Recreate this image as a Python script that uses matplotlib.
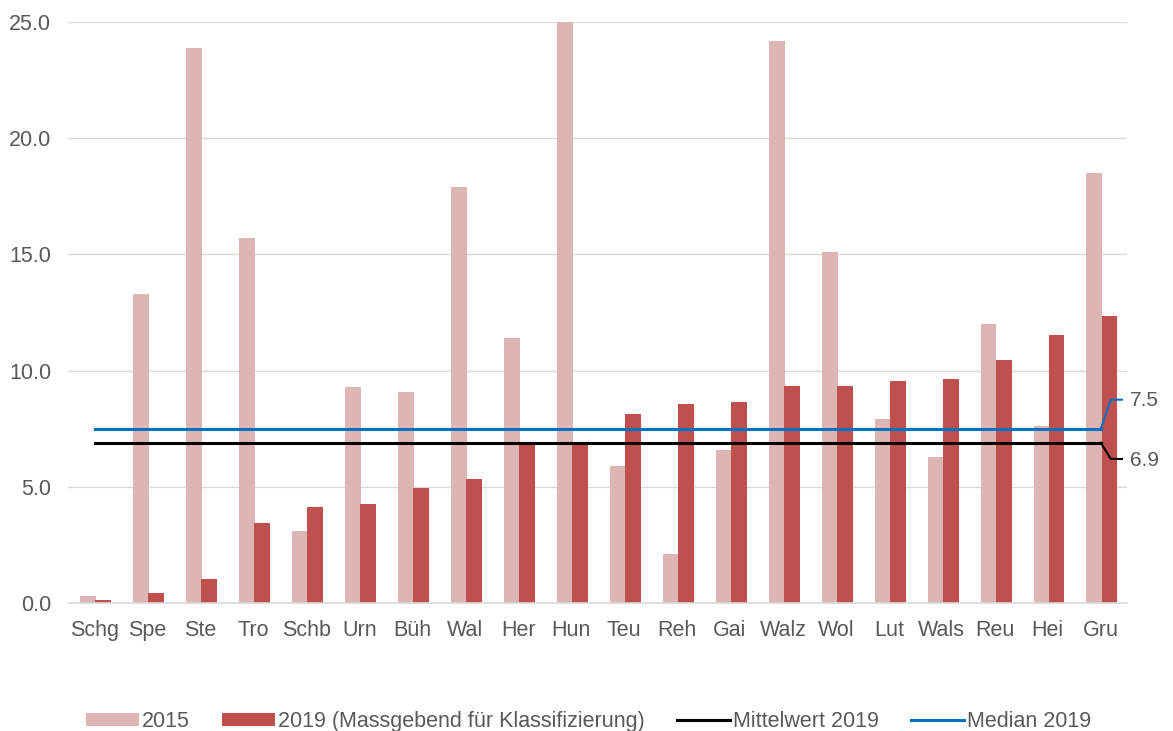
import matplotlib.pyplot as plt
import numpy as np

plt.rcParams['font.family'] = ['Liberation Sans', 'DejaVu Sans']

# Gemeinden (Kürzel)
gemeinden = ['Schg', 'Spe', 'Ste', 'Tro', 'Schb', 'Urn', 'Büh', 'Wal', 'Her', 'Hun',
             'Teu', 'Reh', 'Gai', 'Walz', 'Wol', 'Lut', 'Wals', 'Reu', 'Hei', 'Gru']

werte_2015 = [0.3, 13.3, 23.9, 15.7, 3.1, 9.3, 9.1, 17.9, 11.4, 25.0,
              5.9, 2.1, 6.6, 24.2, 15.1, 7.9, 6.3, 12.0, 7.6, 18.5]
werte_2019 = [0.15, 0.45, 1.05, 3.45, 4.15, 4.25, 4.95, 5.35, 6.85, 6.95,
              8.15, 8.55, 8.65, 9.35, 9.35, 9.55, 9.65, 10.45, 11.55, 12.35]

mittelwert_2019 = 6.9
median_2019 = 7.5

grau = '#595959'
farbe_2015 = '#DDB5B5'
farbe_2019 = '#C0504D'
farbe_median = '#0070C0'

fig = plt.figure(figsize=(11.73, 7.31), dpi=100)
ax = fig.add_axes([0.058, 0.175, 0.903, 0.795])

x = np.arange(len(gemeinden))
breite = 0.3
b1 = ax.bar(x - 0.12, werte_2015, breite, color=farbe_2015, label='2015', zorder=2)
b2 = ax.bar(x + 0.165, werte_2019, breite, color=farbe_2019,
            label='2019 (Massgebend für Klassifizierung)', zorder=2)

# Mittelwert- und Medianlinie mit kleinem Knick zur Beschriftung
n = len(gemeinden) - 1
l1, = ax.plot([0, n], [mittelwert_2019, mittelwert_2019], color='black', lw=2.2,
              label='Mittelwert 2019', zorder=3)
l2, = ax.plot([0, n], [median_2019, median_2019], color=farbe_median, lw=2.2,
              label='Median 2019', zorder=3)
ax.plot([n, n + 0.19, n + 0.4], [mittelwert_2019, mittelwert_2019 - 0.7, mittelwert_2019 - 0.7],
        color='black', lw=1.5, zorder=3, clip_on=False)
ax.plot([n, n + 0.19, n + 0.4], [median_2019, median_2019 + 1.25, median_2019 + 1.25],
        color=farbe_median, lw=1.5, zorder=3, clip_on=False)
ax.text(n + 0.55, mittelwert_2019 - 0.75, f'{mittelwert_2019:.1f}', va='center', ha='left',
        fontsize=15, color=grau)
ax.text(n + 0.55, median_2019 + 1.2, f'{median_2019:.1f}', va='center', ha='left',
        fontsize=15, color=grau)

ax.set_xlim(-0.5, n + 0.5)
ax.set_ylim(0, 25)
ax.set_yticks(np.arange(0, 26, 5))
ax.set_yticklabels([f'{v:.1f}' for v in np.arange(0, 26, 5)])
ax.set_xticks(x)
ax.set_xticklabels(gemeinden)
ax.tick_params(axis='y', length=0, pad=12, labelsize=15.5, labelcolor=grau)
ax.tick_params(axis='x', length=0, pad=12, labelsize=15.5, labelcolor=grau)
ax.grid(axis='y', color='#D9D9D9', lw=1, zorder=0)
for s in ['top', 'right', 'left']:
    ax.spines[s].set_visible(False)
ax.spines['bottom'].set_color('#D9D9D9')
ax.spines['bottom'].set_linewidth(1.2)

fig.legend(handles=[b1, b2, l1, l2], loc='lower center', bbox_to_anchor=(0.502, -0.028),
           ncol=4, frameon=False, fontsize=15.5, labelcolor=grau, handlelength=2.45,
           handleheight=0.55, handletextpad=0.15, columnspacing=1.5)

fig.savefig('out.png', dpi=100)
